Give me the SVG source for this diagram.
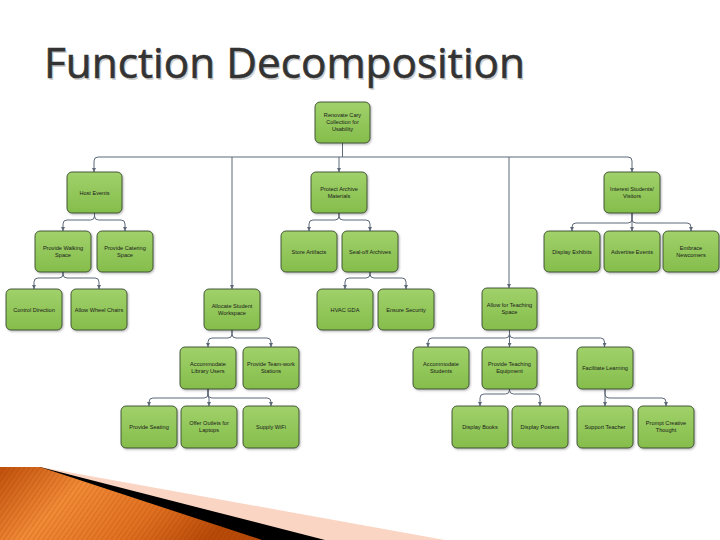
<svg xmlns="http://www.w3.org/2000/svg" width="720" height="540" viewBox="0 0 720 540">
<defs>
<linearGradient id="g" x1="0" y1="0" x2="0" y2="1">
<stop offset="0" stop-color="#a0d16a"/>
<stop offset="1" stop-color="#85bd4c"/>
</linearGradient>
<linearGradient id="og" x1="0" y1="0" x2="1" y2="0.3">
<stop offset="0" stop-color="#c0500c"/>
<stop offset="0.35" stop-color="#f28a36"/>
<stop offset="0.7" stop-color="#e07020"/>
<stop offset="1" stop-color="#b84a08"/>
</linearGradient>
<pattern id="stripes" width="4" height="4" patternUnits="userSpaceOnUse" patternTransform="rotate(35)">
<rect width="1" height="4" fill="#7a2e00" opacity="0.18"/>
</pattern>
<filter id="sh" x="-10%" y="-10%" width="130%" height="130%">
<feDropShadow dx="1" dy="1.2" stdDeviation="0.8" flood-color="#000" flood-opacity="0.3"/>
</filter>
<marker id="ar" viewBox="0 0 6 6" refX="6" refY="3" markerWidth="4" markerHeight="4" markerUnits="userSpaceOnUse" orient="auto">
<path d="M0,0 L6,3 L0,6 z" fill="#5d6878"/>
</marker>
</defs>
<style>
.n rect{fill:url(#g);stroke:#2c3b22;stroke-width:0.8;filter:url(#sh)}
.n text{font-family:"Liberation Sans",Arial,sans-serif;font-size:5.6px;fill:#1a1a1a;text-anchor:middle}
.c path{fill:none;stroke:#5d6878;stroke-width:1;marker-end:url(#ar)}
.c path.s{marker-end:none}
.title{font-family:"Open Sans","Liberation Sans",sans-serif;font-size:42px}
</style>
<rect width="720" height="540" fill="#fff"/>
<text class="title" x="45.5" y="79.5" fill="#d0d0d0" textLength="481" lengthAdjust="spacingAndGlyphs">Function Decomposition</text>
<text class="title" x="44" y="78" fill="#333" stroke="#333" stroke-width="0.6" textLength="481" lengthAdjust="spacingAndGlyphs">Function Decomposition</text>

<g id="decor">
<polygon points="40,467 445,540 0,540" fill="#fbd5c3"/>
<polygon points="40,467 325,540 0,540" fill="#000"/>
<polygon points="0,467 40,467 262,540 0,540" fill="url(#og)"/>
<polygon points="0,467 40,467 262,540 0,540" fill="url(#stripes)"/>
</g>

<g id="connectors" class="c">
<path class="s" d="M342.5,143 V157"/>
<path d="M342.5,157 H98 Q94,157 94,161 V172"/>
<path d="M342.5,157 H628 Q632,157 632,161 V172"/>
<path d="M339,157 V172"/>
<path d="M232,157 V289"/>
<path d="M509,157 V288"/>

<path d="M94.5,213 V216 Q94.5,220 90.5,220 H67 Q63,220 63,224 V231"/>
<path d="M94.5,213 V216 Q94.5,220 98.5,220 H121 Q125,220 125,224 V231"/>

<path d="M63,272 V274 Q63,278 59,278 H38 Q34,278 34,282 V289"/>
<path d="M63,272 V274 Q63,278 67,278 H95 Q99,278 99,282 V289"/>

<path d="M339,213 V216 Q339,220 335,220 H313 Q309,220 309,224 V231"/>
<path d="M339,213 V216 Q339,220 343,220 H366 Q370,220 370,224 V231"/>

<path d="M370,272 V274 Q370,278 366,278 H349 Q345,278 345,282 V289"/>
<path d="M370,272 V274 Q370,278 374,278 H402 Q406,278 406,282 V289"/>

<path d="M632,213 V219 Q632,223 628,223 H576 Q572,223 572,227 V231"/>
<path d="M632,213 V231"/>
<path d="M632,213 V219 Q632,223 636,223 H687 Q691,223 691,227 V231"/>

<path d="M232,330 V334 Q232,338 228,338 H212 Q208,338 208,342 V347"/>
<path d="M232,330 V334 Q232,338 236,338 H267 Q271,338 271,342 V347"/>

<path d="M208,389 V394 Q208,398 204,398 H153 Q149,398 149,402 V406"/>
<path d="M208,389 V394 Q208,398 209,398 Q209,398 209,402 V406"/>
<path d="M208,389 V394 Q208,398 212,398 H267 Q271,398 271,402 V406"/>

<path d="M509.5,330 V334 Q509.5,338 505.5,338 H432 Q428,338 428,342 V347"/>
<path d="M509.5,330 V347"/>
<path d="M509.5,330 V334 Q509.5,338 513.5,338 H600.5 Q604.5,338 604.5,342 V347"/>

<path d="M509.5,389 V390 Q509.5,394 505.5,394 H484 Q480,394 480,398 V406"/>
<path d="M509.5,389 V390 Q509.5,394 513.5,394 H536 Q540,394 540,398 V406"/>

<path d="M605,389 V406"/>
<path d="M605,389 V394 Q605,398 609,398 H662 Q666,398 666,402 V406"/>
</g>

<g id="root" class="n"><rect x="315" y="102" width="55" height="41" rx="5"/><text x="342.5" y="117">Renovate Cary</text><text x="342.5" y="124">Collection for</text><text x="342.5" y="131">Usability</text></g>
<g id="host" class="n"><rect x="67" y="172" width="55" height="41" rx="5"/><text x="94.5" y="194.5">Host Events</text></g>
<g id="protect" class="n"><rect x="311" y="172" width="56" height="41" rx="5"/><text x="339" y="190.5">Protect Archive</text><text x="339" y="197.5">Materials</text></g>
<g id="interest" class="n"><rect x="604" y="172" width="56" height="41" rx="5"/><text x="632" y="190.5">Interest Students/</text><text x="632" y="197.5">Visitors</text></g>

<g id="walking" class="n"><rect x="35" y="231" width="56" height="41" rx="5"/><text x="63" y="249.5">Provide Walking</text><text x="63" y="256.5">Space</text></g>
<g id="catering" class="n"><rect x="97" y="231" width="56" height="41" rx="5"/><text x="125" y="249.5">Provide Catering</text><text x="125" y="256.5">Space</text></g>
<g id="store" class="n"><rect x="281" y="231" width="56" height="41" rx="5"/><text x="309" y="253.5">Store Artifacts</text></g>
<g id="seal" class="n"><rect x="342" y="231" width="56" height="41" rx="5"/><text x="370" y="253.5">Seal-off Archives</text></g>
<g id="exhibits" class="n"><rect x="544" y="231" width="56" height="41" rx="5"/><text x="572" y="253.5">Display Exhibits</text></g>
<g id="advertise" class="n"><rect x="604" y="231" width="56" height="41" rx="5"/><text x="632" y="253.5">Advertise Events</text></g>
<g id="embrace" class="n"><rect x="663" y="231" width="56" height="41" rx="5"/><text x="691" y="249.5">Embrace</text><text x="691" y="256.5">Newcomers</text></g>

<g id="control" class="n"><rect x="6" y="289" width="56" height="41" rx="5"/><text x="34" y="311.5">Control Direction</text></g>
<g id="wheel" class="n"><rect x="71" y="289" width="56" height="41" rx="5"/><text x="99" y="311.5">Allow Wheel Chairs</text></g>
<g id="allocate" class="n"><rect x="204" y="289" width="56" height="41" rx="5"/><text x="232" y="307.5">Allocate Student</text><text x="232" y="314.5">Workspace</text></g>
<g id="hvac" class="n"><rect x="317" y="289" width="56" height="41" rx="5"/><text x="345" y="311.5">HVAC GDA</text></g>
<g id="security" class="n"><rect x="378" y="289" width="56" height="41" rx="5"/><text x="406" y="311.5">Ensure Security</text></g>
<g id="teachspace" class="n"><rect x="482" y="288" width="55" height="42" rx="5"/><text x="509.5" y="306.5">Allow for Teaching</text><text x="509.5" y="313.5">Space</text></g>

<g id="library" class="n"><rect x="180" y="347" width="56" height="42" rx="5"/><text x="208" y="365.5">Accommodate</text><text x="208" y="372.5">Library Users</text></g>
<g id="teamwork" class="n"><rect x="243" y="347" width="56" height="42" rx="5"/><text x="271" y="365.5">Provide Team-work</text><text x="271" y="372.5">Stations</text></g>
<g id="accstudents" class="n"><rect x="413" y="347" width="56" height="42" rx="5"/><text x="441" y="365.5">Accommodate</text><text x="441" y="372.5">Students</text></g>
<g id="equipment" class="n"><rect x="482" y="347" width="55" height="42" rx="5"/><text x="509.5" y="365.5">Provide Teaching</text><text x="509.5" y="372.5">Equipment</text></g>
<g id="facilitate" class="n"><rect x="577" y="347" width="56" height="42" rx="5"/><text x="605" y="369.5">Facilitate Learning</text></g>

<g id="seating" class="n"><rect x="121" y="406" width="56" height="42" rx="5"/><text x="149" y="428.5">Provide Seating</text></g>
<g id="outlets" class="n"><rect x="181" y="406" width="56" height="42" rx="5"/><text x="209" y="424.5">Offer Outlets for</text><text x="209" y="431.5">Laptops</text></g>
<g id="wifi" class="n"><rect x="243" y="406" width="56" height="42" rx="5"/><text x="271" y="428.5">Supply WiFi</text></g>
<g id="books" class="n"><rect x="452" y="406" width="56" height="42" rx="5"/><text x="480" y="428.5">Display Books</text></g>
<g id="posters" class="n"><rect x="512" y="406" width="56" height="42" rx="5"/><text x="540" y="428.5">Display Posters</text></g>
<g id="support" class="n"><rect x="577" y="406" width="56" height="42" rx="5"/><text x="605" y="428.5">Support Teacher</text></g>
<g id="prompt" class="n"><rect x="638" y="406" width="56" height="42" rx="5"/><text x="666" y="424.5">Prompt Creative</text><text x="666" y="431.5">Thought</text></g>
</svg>
